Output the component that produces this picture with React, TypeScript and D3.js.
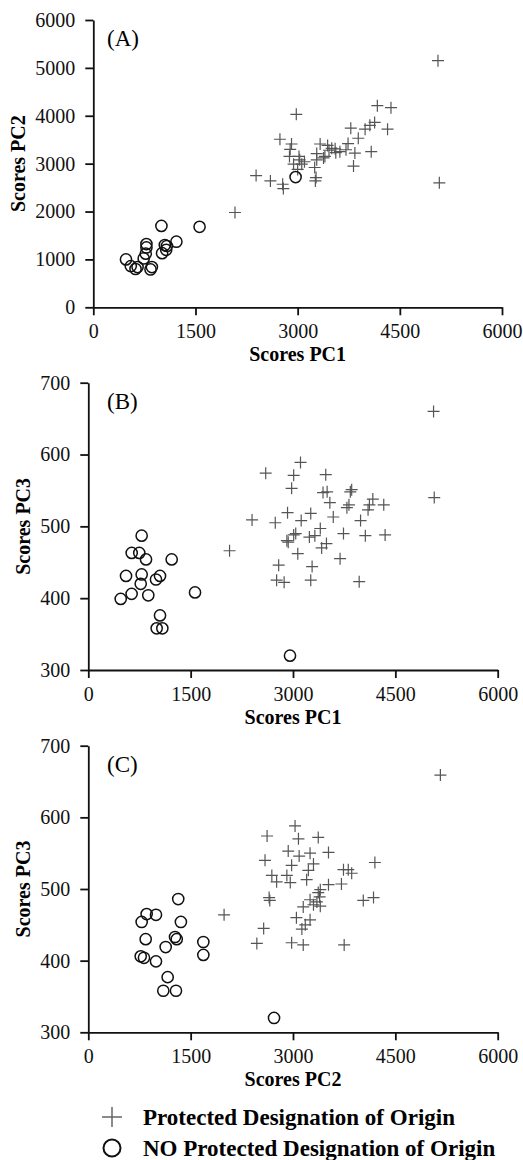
import React, { useRef, useEffect } from "react";
import { select, scaleLinear, axisLeft, axisBottom } from "d3";

// tick labels
const xTicks = [0, 1500, 3000, 4500, 6000];
const pc2Ticks = [0, 1000, 2000, 3000, 4000, 5000, 6000];
const pc3Ticks = [300, 400, 500, 600, 700];

// (A) PC1 vs PC2
const pdoA = [
  [5060, 5150], [5080, 2600], [2980, 4030], [4170, 4210], [4370, 4170],
  [3780, 3740], [3990, 3720], [4130, 3860], [4320, 3720], [4060, 3800],
  [3890, 3530], [4080, 3250], [3840, 3220], [3820, 2950], [3740, 3420],
  [3710, 3290], [2740, 3510], [2910, 3410], [2890, 3300], [2880, 3150],
  [2940, 2990], [3030, 3080], [3100, 3040], [3060, 2990], [3280, 3210],
  [3330, 3410], [3440, 3380], [3500, 3320], [3550, 3310], [3460, 3280],
  [3620, 3250], [3400, 3150], [3280, 3080], [3250, 2920], [2390, 2750],
  [2600, 2640], [2780, 2570], [2790, 2480], [3270, 2710], [3260, 2640],
  [2080, 1980], [3000, 2880], [3380, 3120], [3560, 3230], [3020, 3150]
];
const nonA = [
  [480, 1000], [550, 860], [620, 800], [650, 840], [740, 1020], [770, 1120],
  [780, 1250], [780, 1320], [840, 790], [860, 840], [1000, 1700], [1010, 1130],
  [1050, 1300], [1070, 1200], [1080, 1280], [1220, 1370], [1560, 1680], [2970, 2720]
];

// (B) PC1 vs PC3
const pdoB = [
  [5060, 660], [5070, 540], [2070, 466], [2400, 509], [2600, 574], [2740, 505],
  [2790, 446], [2760, 425], [2870, 422], [2920, 519], [2910, 480], [2930, 478],
  [2980, 553], [3010, 571], [3110, 589], [3010, 488], [3040, 490], [3070, 462],
  [3120, 508], [3260, 518], [3240, 485], [3320, 487], [3280, 444], [3260, 425],
  [3400, 497], [3420, 470], [3490, 476], [3480, 572], [3440, 547], [3500, 548],
  [3540, 533], [3590, 513], [3740, 490], [3690, 455], [3790, 526], [3820, 530],
  [3860, 551], [3840, 548], [3990, 508], [3970, 423], [4060, 487], [4120, 530],
  [4170, 538], [4330, 530], [4350, 488], [4100, 523]
];
const nonB = [
  [782, 487], [636, 463], [747, 463], [846, 454], [1222, 454], [553, 431],
  [782, 433], [768, 420], [992, 426], [1051, 431], [475, 399], [635, 406],
  [879, 404], [1564, 408], [1051, 376], [1002, 358], [1085, 358], [2956, 320]
];

// (C) PC2 vs PC3
const pdoC = [
  [5160, 659], [1990, 464], [2620, 574], [3030, 588], [3080, 570], [3370, 572],
  [2930, 553], [3090, 546], [3250, 550], [3520, 551], [2590, 540], [2980, 533],
  [3225, 526], [3300, 535], [2690, 519], [2910, 519], [2760, 510], [2960, 509],
  [3200, 513], [3740, 527], [3810, 527], [3860, 522], [3520, 506], [3710, 507],
  [4200, 537], [3400, 499], [2650, 488], [2660, 484], [3390, 489], [3350, 482],
  [3250, 485], [3400, 476], [3150, 475], [4180, 488], [4030, 484], [3050, 460],
  [3250, 457], [3180, 450], [2570, 445], [3130, 444], [2470, 424], [2980, 425],
  [3150, 422], [3750, 422], [3300, 478], [3370, 495]
];
const nonC = [
  [1318, 486], [855, 465], [992, 464], [782, 454], [1357, 454], [841, 430],
  [1271, 433], [1296, 430], [1134, 419], [1686, 426], [1686, 408], [768, 406],
  [816, 404], [992, 399], [1163, 377], [1099, 358], [1285, 358], [2722, 320]
];

const FONT = "'Liberation Serif', 'Times New Roman', serif";
const plusPath = (s) => `M${-s},0H${s}M0,${-s}V${s}`;

const panels = [
  {
    label: "(A)", xTitle: "Scores PC1", yTitle: "Scores PC2",
    xr: [93.3, 502], yr: [307.3, 20], yd: [0, 6000], yTicks: pc2Ticks,
    pdo: pdoA, non: nonA, titleX: 25
  },
  {
    label: "(B)", xTitle: "Scores PC1", yTitle: "Scores PC3",
    xr: [88.3, 497.7], yr: [670, 382.7], yd: [300, 700], yTicks: pc3Ticks,
    pdo: pdoB, non: nonB, titleX: 30
  },
  {
    label: "(C)", xTitle: "Scores PC2", yTitle: "Scores PC3",
    xr: [88.3, 497.7], yr: [1032.3, 745.7], yd: [300, 700], yTicks: pc3Ticks,
    pdo: pdoC, non: nonC, titleX: 30
  }
];

const Panel = ({ cfg }) => {
  const gRef = useRef();
  useEffect(() => {
    const g = select(gRef.current);
    g.selectAll("*").remove();

    const x = scaleLinear().domain([0, 6000]).range(cfg.xr);
    const y = scaleLinear().domain(cfg.yd).range(cfg.yr);

    // axes, plain numbers without thousands separator
    const xAxis = axisBottom(x).tickValues(xTicks).tickFormat(d => String(d))
      .tickSize(8).tickSizeOuter(0).tickPadding(9);
    const yAxis = axisLeft(y).tickValues(cfg.yTicks).tickFormat(d => String(d))
      .tickSize(8).tickSizeOuter(0).tickPadding(10);

    const ax = g.append("g").attr("transform", `translate(0,${cfg.yr[0]})`).call(xAxis);
    const ay = g.append("g").attr("transform", `translate(${cfg.xr[0]},0)`).call(yAxis);
    [ax, ay].forEach(a => {
      a.attr("font-size", 20).attr("font-family", FONT);
      a.selectAll("path, line").attr("stroke", "#111").attr("stroke-width", 1.8);
      a.selectAll("text").attr("fill", "#111");
    });

    // markers
    g.append("g")
      .selectAll("path")
      .data(cfg.pdo)
      .join("path")
      .attr("d", plusPath(6))
      .attr("transform", d => `translate(${x(d[0])},${y(d[1])})`)
      .attr("stroke", "#555")
      .attr("stroke-width", 1.2)
      .attr("fill", "none");

    g.append("g")
      .selectAll("circle")
      .data(cfg.non)
      .join("circle")
      .attr("cx", d => x(d[0]))
      .attr("cy", d => y(d[1]))
      .attr("r", 5.6)
      .attr("stroke", "#111")
      .attr("stroke-width", 1.5)
      .attr("fill", "none");

    // titles
    g.append("text")
      .attr("x", (cfg.xr[0] + cfg.xr[1]) / 2)
      .attr("y", cfg.yr[0] + 54)
      .attr("text-anchor", "middle")
      .attr("font-family", FONT)
      .attr("font-weight", "bold")
      .attr("font-size", 20)
      .text(cfg.xTitle);

    const cy = (cfg.yr[0] + cfg.yr[1]) / 2;
    g.append("text")
      .attr("transform", `translate(${cfg.titleX},${cy}) rotate(-90)`)
      .attr("text-anchor", "middle")
      .attr("font-family", FONT)
      .attr("font-weight", "bold")
      .attr("font-size", 20)
      .text(cfg.yTitle);

    g.append("text")
      .attr("x", 107)
      .attr("y", cfg.yr[1] + 26)
      .attr("font-family", FONT)
      .attr("font-size", 23)
      .text(cfg.label);
  }, [cfg]);

  return <g ref={gRef} />;
};

const App = () => {
  return (
    <svg
      width={523}
      height={1160}
      style={{ position: "absolute", left: 0, top: 0, background: "#fff" }}
    >
      <rect width={523} height={1160} fill="#fff" />
      {panels.map(p => (
        <Panel key={p.label} cfg={p} />
      ))}
      {/* legend */}
      <g fontFamily={FONT} fontWeight="bold" fontSize={23}>
        <path d={plusPath(10)} transform="translate(112,1117)" stroke="#666" strokeWidth={1.5} fill="none" />
        <text x={143} y={1125}>Protected Designation of Origin</text>
        <circle cx={112} cy={1148} r={8.5} stroke="#111" strokeWidth={2} fill="none" />
        <text x={143} y={1156}>NO Protected Designation of Origin</text>
      </g>
    </svg>
  );
};

export default App;
